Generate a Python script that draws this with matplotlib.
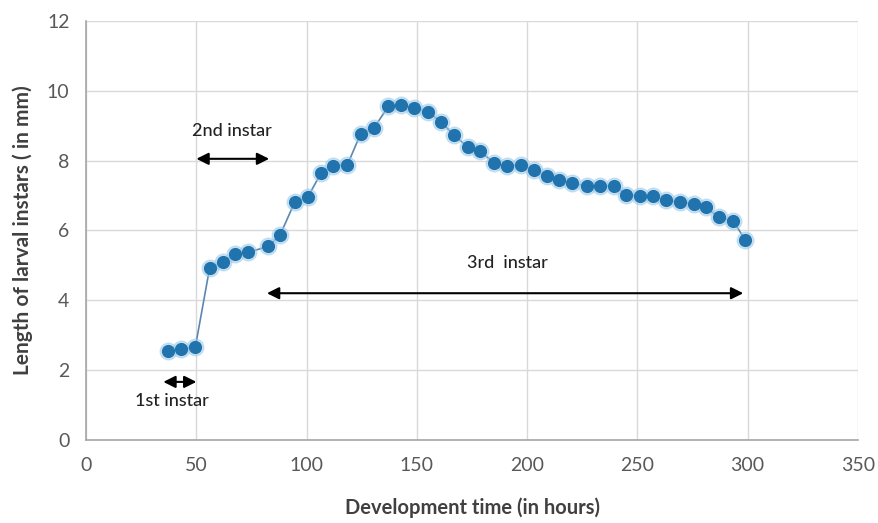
import matplotlib
matplotlib.use("Agg")
import matplotlib.pyplot as plt

# Data
hours = [37, 43, 49.5, 56, 62, 67.5, 73.5, 82.5, 88, 94.5, 100.5, 106.5, 112, 118.5,
         124.5, 130.5, 137, 143, 148.5, 155, 161, 167, 173, 178.5, 185, 191, 197,
         203, 209, 214.5, 220.5, 227, 233, 239.5, 245, 251, 257, 263, 269.5, 275.5,
         281, 287, 293.5, 299]
length_mm = [2.55, 2.6, 2.65, 4.92, 5.08, 5.32, 5.37, 5.54, 5.87, 6.8, 6.95, 7.64, 7.85,
             7.88, 8.77, 8.93, 9.55, 9.6, 9.5, 9.4, 9.1, 8.72, 8.39, 8.28, 7.93, 7.85,
             7.88, 7.72, 7.55, 7.43, 7.36, 7.26, 7.28, 7.28, 7.02, 6.99, 6.99, 6.86,
             6.8, 6.76, 6.66, 6.38, 6.26, 5.72]

xticks = [0, 50, 100, 150, 200, 250, 300, 350]
yticks = [0, 2, 4, 6, 8, 10, 12]

instar_labels = ["1st instar", "2nd instar", "3rd  instar"]
instar_spans = [(35, 50), (50, 83), (82, 298)]
instar_arrow_y = [1.66, 8.05, 4.2]
instar_text_xy = [(39, 1.1), (66, 8.85), (191, 5.07)]

plt.rcParams['font.family'] = ['Lato', 'DejaVu Sans']

fig = plt.figure(figsize=(8.79, 5.23), dpi=100)
ax = fig.add_axes([0.098, 0.159, 0.878, 0.801])

ax.plot(hours, length_mm, color='#5b87b0', linewidth=1.2, zorder=2)
ax.plot(hours, length_mm, linestyle='none', marker='o', markersize=12,
        color='#9ccbea', alpha=0.5, zorder=3)
ax.plot(hours, length_mm, linestyle='none', marker='o', markersize=8.5,
        color='#2173ad', zorder=4)

ax.set_xlim(0, 350)
ax.set_ylim(0, 12)
ax.set_xticks(xticks)
ax.set_yticks(yticks)
ax.grid(True, color='#d9d9d9', linewidth=1)
ax.set_axisbelow(True)
for s in ['top', 'right']:
    ax.spines[s].set_visible(False)
for s in ['left', 'bottom']:
    ax.spines[s].set_color('#a6a6a6')
    ax.spines[s].set_linewidth(1.2)
ax.tick_params(length=0, labelsize=14, labelcolor='#595959', pad=12)

ax.set_xlabel('Development time (in hours)', fontsize=14.5, fontweight='bold',
              color='#404040', labelpad=17)
ax.set_ylabel('Length of larval instars ( in mm)', fontsize=15, fontweight='bold',
              color='#404040', labelpad=10)

for lab, (x0, x1), ya, (tx, ty) in zip(instar_labels, instar_spans, instar_arrow_y, instar_text_xy):
    ax.annotate('', xy=(x0, ya), xytext=(x1, ya),
                arrowprops=dict(arrowstyle='<|-|>', color='black', lw=1.5,
                                mutation_scale=18, shrinkA=0, shrinkB=0))
    ax.text(tx, ty, lab, ha='center', va='center', fontsize=13, color='#222222',
            fontweight='medium')

fig.savefig('out.png', dpi=100)
